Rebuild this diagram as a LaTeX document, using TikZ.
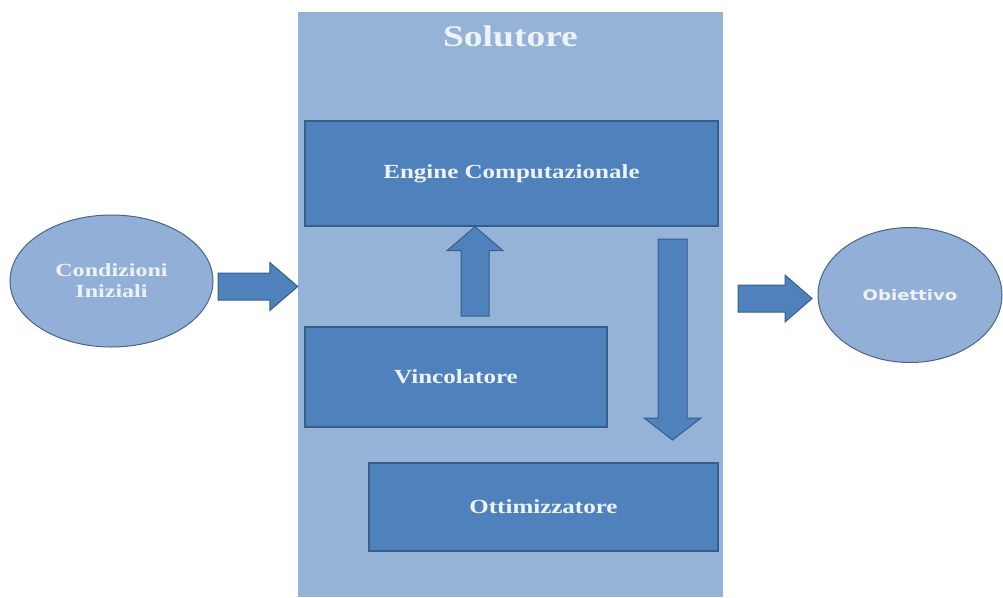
\documentclass[tikz,border=0pt]{standalone}
\usepackage{fontspec}
\setmainfont{Liberation Serif}
\newfontfamily\objfont{DejaVu Sans}
\usetikzlibrary{calc,shapes.geometric}
\definecolor{panelblue}{HTML}{95B3D7}
\definecolor{boxblue}{HTML}{4F81BD}
\definecolor{edgeblue}{HTML}{385D8A}
\definecolor{ellblue}{HTML}{92AFD8}
\definecolor{elledge}{HTML}{4A6485}
\definecolor{txtc}{HTML}{EEF3FA}
\newcommand{\hs}[1]{\scalebox{1.25}[1]{#1}}
\newcommand{\hsc}[1]{\scalebox{1.3}[1]{#1}}
\newcommand{\blockarrow}[5]{%
  \coordinate (ba-h) at ($(#2)!#5!(#1)$);
  \draw[barr] ($(#1)!#3!90:(#2)$) -- ($(ba-h)!#3!-90:(#1)$) -- ($(ba-h)!#4!-90:(#1)$) -- (#2)
     -- ($(ba-h)!#4!90:(#1)$) -- ($(ba-h)!#3!90:(#1)$) -- ($(#1)!#3!-90:(#2)$) -- cycle;}
\tikzset{
  panel/.style={fill=panelblue, draw=none, inner sep=0pt},
  boxnode/.style={fill=boxblue, draw=edgeblue, line width=1.3pt, inner sep=0pt, text=txtc,
     font=\fontsize{20}{24}\selectfont\bfseries},
  ell/.style={ellipse, fill=ellblue, draw=elledge, line width=1pt, inner sep=0pt, text=txtc},
  barr/.style={fill=boxblue, draw=edgeblue, line width=1pt, line join=miter},
  title/.style={text=txtc, font=\fontsize{30}{34}\selectfont\bfseries, inner sep=0pt}
}
\begin{document}
\begin{tikzpicture}[x=1pt,y=-1pt]
\useasboundingbox (0,0) rectangle (1003,597);
% panel
\node[panel, minimum width=425pt, minimum height=585pt] (sol) at (510.5,304.5) {};
\node[title] (solt) at (510.5,36) {\hs{Solutore}};
% boxes
\node[boxnode, minimum width=413pt, minimum height=105pt] (eng) at (511.5,173.5) {\hs{Engine Computazionale}};
\node[boxnode, minimum width=302pt, minimum height=100pt] (vin) at (456,377) {\hs{Vincolatore}};
\node[boxnode, minimum width=349pt, minimum height=88pt] (ott) at (543.5,507) {\hs{Ottimizzatore}};
% ellipses
\node[ell, minimum width=203pt, minimum height=132pt, align=center,
      font=\fontsize{18.5}{21}\selectfont\bfseries] (cond) at (111.5,281)
      {\hsc{Condizioni}\\\hsc{Iniziali}};
\node[ell, minimum width=184pt, minimum height=135pt,
      font=\objfont\fontsize{14.5}{17}\selectfont\bfseries] (obj) at (910,295) {\hs{Obiettivo}};
% arrows
\coordinate (la1) at (218,286.5);
\coordinate (la2) at (sol.west |- la1);
\blockarrow{la1}{la2}{13.5pt}{24pt}{28pt}
\coordinate (ra1) at (738,298.5);
\coordinate (ra2) at (812,298.5);
\blockarrow{ra1}{ra2}{13.5pt}{23.5pt}{27pt}
\coordinate (ua1) at (475,316);
\coordinate (ua2) at (ua1 |- eng.south);
\blockarrow{ua1}{ua2}{14pt}{28pt}{24pt}
\coordinate (da1) at (672.5,239);
\coordinate (da2) at (672.5,440);
\blockarrow{da1}{da2}{14.5pt}{28.5pt}{22pt}
\end{tikzpicture}
\end{document}
